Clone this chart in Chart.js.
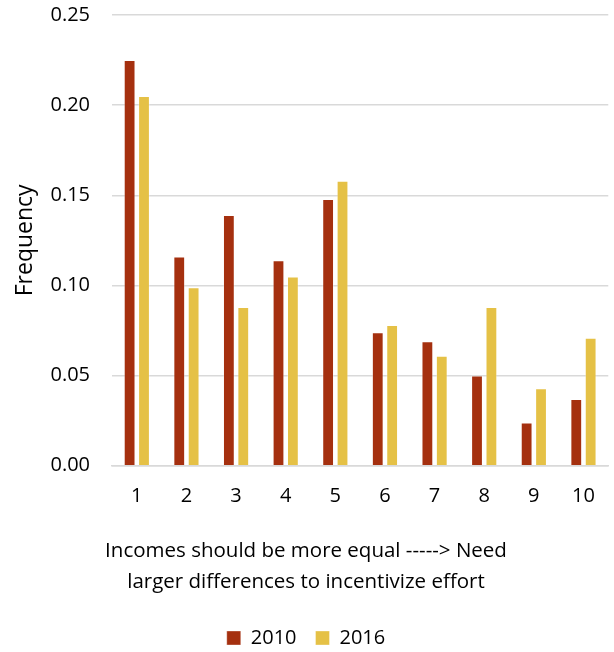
<!DOCTYPE html>
<html>
<head>
<meta charset="utf-8">
<script src="https://cdn.jsdelivr.net/npm/chart.js@4.4.1/dist/chart.umd.min.js"></script>
<style>
  html, body { margin: 0; padding: 0; background: #ffffff; overflow: hidden; }
  #wrap { width: 614px; height: 652px; }
</style>
</head>
<body>
<div id="wrap"><canvas id="c" width="614" height="652"></canvas></div>
<script>
// Attitude scale 1..10 and the share of respondents at each point
const categories = ['1', '2', '3', '4', '5', '6', '7', '8', '9', '10'];
const freq2010 = [0.225, 0.116, 0.139, 0.114, 0.148, 0.074, 0.069, 0.050, 0.024, 0.037];
const freq2016 = [0.205, 0.099, 0.088, 0.105, 0.158, 0.078, 0.061, 0.088, 0.043, 0.071];
const yTicks = [0, 0.05, 0.10, 0.15, 0.20, 0.25];
const seriesNames = ['2010', '2016'];
const xTitle = ['Incomes should be more equal -----> Need', 'larger differences to incentivize effort'];
const yTitle = 'Frequency';

const FONT = '"Open Sans", Lato, sans-serif';
const RED = '#A5300F';
const GOLD = '#E5C146';

// nudge the legend row a few pixels lower than the default layout puts it
const legendShift = {
  id: 'legendShift',
  afterLayout(chart) {
    const lg = chart.legend;
    if (lg) { lg.top += 6; lg.bottom += 6; }
  }
};

new Chart(document.getElementById('c'), {
  type: 'bar',
  data: {
    labels: categories,
    datasets: [
      { label: seriesNames[0], data: freq2010, backgroundColor: RED, borderColor: 'rgba(255,255,255,0.35)', borderWidth: 1,
        categoryPercentage: 0.58, barPercentage: 0.82 },
      { label: seriesNames[1], data: freq2016, backgroundColor: GOLD, borderColor: 'rgba(255,255,255,0.35)', borderWidth: 1,
        categoryPercentage: 0.58, barPercentage: 0.82 }
    ]
  },
  plugins: [legendShift],
  options: {
    responsive: false,
    animation: false,
    layout: { padding: { top: 15, right: 2, left: 0, bottom: 0 } },
    plugins: {
      tooltip: { enabled: false },
      title: {
        display: true,
        position: 'bottom',
        weight: 500,
        text: xTitle,
        font: { family: FONT, size: 20.5, weight: 'normal', lineHeight: 1.52 },
        color: '#000',
        padding: { top: 22, bottom: 5 }
      },
      legend: {
        position: 'bottom',
        labels: {
          font: { family: FONT, size: 20 },
          color: '#000',
          boxWidth: 14,
          boxHeight: 14,
          padding: 19
        }
      }
    },
    scales: {
      x: {
        grid: { display: false, drawTicks: false },
        border: { display: true, color: '#d9d9d9', width: 1.5 },
        ticks: { font: { family: FONT, size: 20 }, color: '#000', padding: 19, maxRotation: 0 },
        afterFit: (s) => { s.height = 48; }
      },
      y: {
        min: 0,
        max: 0.25,
        afterBuildTicks: (s) => { s.ticks = yTicks.map(v => ({ value: v })); },
        grid: { color: '#d9d9d9', lineWidth: 1.5, drawTicks: false },
        border: { display: false },
        ticks: {
          font: { family: FONT, size: 20 }, color: '#000', padding: 22,
          callback: (v) => Number(v).toFixed(2)
        },
        title: {
          display: true,
          text: yTitle,
          font: { family: FONT, size: 23 },
          color: '#000',
          padding: { top: 12, bottom: 0 }
        },
        afterFit: (s) => { s.width = 112; s.paddingTop = 0; s.paddingBottom = 0; }
      }
    }
  }
});
</script>
</body>
</html>
